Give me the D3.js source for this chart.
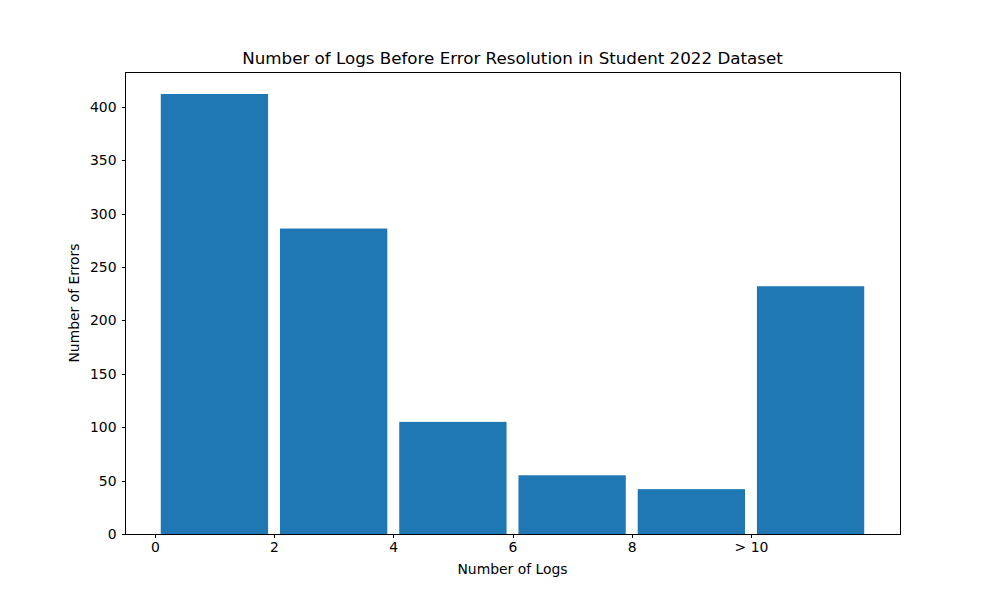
<!DOCTYPE html>
<html><head><meta charset="utf-8">
<script src="https://d3js.org/d3.v7.min.js"></script>
<style>body{margin:0;background:#fff}svg{display:block}text{font-family:"DejaVu Sans",sans-serif;fill:#000}</style>
</head><body>
<script>
const binStarts = [0, 2, 4, 6, 8, 10];
const binWidth = 2;
const counts = [412, 286, 105, 55, 42, 232];
const tickValues = [0, 2, 4, 6, 8, 10];
const tickLabels = ["0", "2", "4", "6", "8", "> 10"];
const yTicks = [0, 50, 100, 150, 200, 250, 300, 350, 400];

const W = 1000, H = 600;
const m = {left: 125, right: 100, top: 72, bottom: 66};
const svg = d3.select("body").append("svg").attr("width", W).attr("height", H);

const x = d3.scaleLinear().domain([-0.5, 12.5]).range([m.left, W - m.right]);
const yMax = d3.max(counts) * 1.05;
const y = d3.scaleLinear().domain([0, yMax]).range([H - m.bottom, m.top]);

svg.append("g").selectAll("rect").data(counts).join("rect")
  .attr("x", (d, i) => x(binStarts[i] + 0.05 * binWidth))
  .attr("width", (d, i) => x(binStarts[i] + 0.95 * binWidth) - x(binStarts[i] + 0.05 * binWidth))
  .attr("y", d => y(d))
  .attr("height", d => y(0) - y(d))
  .attr("fill", "#1f77b4");

const xAxis = svg.append("g").attr("transform", `translate(0,${H - m.bottom})`)
  .call(d3.axisBottom(x).tickValues(tickValues).tickFormat((d, i) => tickLabels[i]).tickSize(3.5).tickPadding(5));
const yAxis = svg.append("g").attr("transform", `translate(${m.left},0)`)
  .call(d3.axisLeft(y).tickValues(yTicks).tickSize(3.5).tickPadding(5));
[xAxis, yAxis].forEach(g => {
  g.select(".domain").remove();
  g.selectAll("line").attr("stroke", "#000").attr("stroke-width", 1).attr("shape-rendering", "crispEdges");
  g.selectAll("text").style("font-size", "13.9px").style("font-family", "DejaVu Sans");
});

svg.append("rect").attr("x", m.left).attr("y", m.top)
  .attr("width", W - m.left - m.right).attr("height", H - m.top - m.bottom)
  .attr("fill", "none").attr("stroke", "#000").attr("stroke-width", 1)
  .attr("shape-rendering", "crispEdges");

svg.append("text").attr("x", (m.left + W - m.right) / 2).attr("y", 64)
  .attr("text-anchor", "middle").style("font-size", "16.7px")
  .text("Number of Logs Before Error Resolution in Student 2022 Dataset");
svg.append("text").attr("x", (m.left + W - m.right) / 2).attr("y", 574)
  .attr("text-anchor", "middle").style("font-size", "13.9px").text("Number of Logs");
svg.append("text").attr("transform", `translate(79,${(m.top + H - m.bottom) / 2}) rotate(-90)`)
  .attr("text-anchor", "middle").style("font-size", "13.9px").text("Number of Errors");
</script>
</body></html>
